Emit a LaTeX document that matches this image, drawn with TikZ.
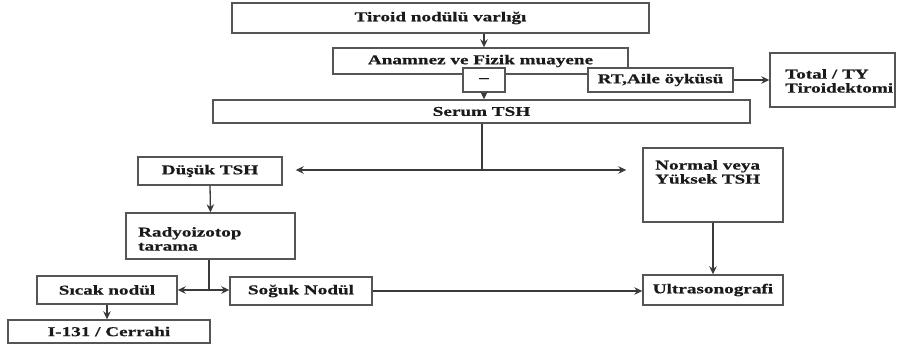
\documentclass[tikz,border=0pt]{standalone}
\usepackage{fontspec}
\setmainfont[FakeStretch=1.42,FakeBold=0.6]{Liberation Serif}
\usetikzlibrary{arrows.meta}
\definecolor{boxgray}{HTML}{555555}
\definecolor{linegray}{HTML}{3A3A3A}
\definecolor{txtcol}{HTML}{1A1A1A}
\newcommand\dgfont{\fontsize{13.5}{14}\selectfont\bfseries}
\begin{document}
\begin{tikzpicture}[x=1pt,y=-1pt,
  box/.style={draw=boxgray, line width=1.4pt, fill=white, inner sep=0pt, font=\dgfont, text=txtcol},
  lbl/.style={inner sep=0pt, anchor=north west, align=left, font=\dgfont, text=txtcol},
  conn/.style={draw=linegray, line width=1.3pt},
  arr/.style={conn, -{Stealth[length=8pt,width=7.5pt]}}]
\useasboundingbox (0,0) rectangle (900,348);
% boxes
\node[box, minimum width=417pt, minimum height=30pt] (tir) at (440.5,18) {Tiroid nodülü varlığı};
\node[box, minimum width=295pt, minimum height=26pt] (ana) at (480.5,61) {Anamnez ve Fizik muayene};
\node[box, minimum width=42pt, minimum height=24pt] (minus) at (484,80) {–};
\node[box, minimum width=145pt, minimum height=24pt] (rt) at (660.5,80) {RT,Aile öyküsü};
\node[box, minimum width=125pt, minimum height=54pt] (total) at (832.5,80) {};
\node[lbl] (totaltxt) at (785,69) {Total / TY\\Tiroidektomi};
\node[box, minimum width=537pt, minimum height=23pt] (tsh) at (481.5,111.5) {Serum TSH};
\node[box, minimum width=144pt, minimum height=28pt] (dus) at (210,171) {Düşük TSH};
\node[box, minimum width=140pt, minimum height=74pt] (nor) at (713,185) {};
\node[lbl] (nortxt) at (655,160) {Normal veya\\Yüksek TSH};
\node[box, minimum width=169pt, minimum height=46pt] (rad) at (210.5,236) {};
\node[lbl] (radtxt) at (138,227) {Radyoizotop\\tarama};
\node[box, minimum width=140pt, minimum height=28pt] (sic) at (107,290) {Sıcak nodül};
\node[box, minimum width=142pt, minimum height=28pt] (sog) at (301,291) {Soğuk Nodül};
\node[box, minimum width=140pt, minimum height=30pt] (ult) at (713,290) {Ultrasonografi};
\node[box, minimum width=202pt, minimum height=23pt] (iod) at (109,331.5) {I-131 / Cerrahi};
% junctions
\coordinate (j1) at (482,170);
\coordinate (j2) at (209,290);
% connectors
\draw[arr] (tir.south -| minus.north) -- (ana.north -| minus.north);
\draw[arr] (minus.south) -- (minus.south |- tsh.north);
\draw[arr] (rt.east) -- (total.west);
\draw[conn] (tsh.south -| j1) -- (j1);
\draw[arr, shorten >=13pt] (j1) -- (dus.east |- j1);
\draw[arr, shorten >=16pt] (j1) -- (nor.west |- j1);
\draw[arr] (dus.south) -- (rad.north);
\draw[conn] (rad.south -| j2) -- (j2);
\draw[arr] (j2) -- (sic.east |- j2);
\draw[arr] (j2) -- (sog.west |- j2);
\draw[arr] (sog.east) -- (ult.west |- sog.east);
\draw[arr] (nor.south) -- (ult.north);
\draw[arr] (sic.south) -- (sic.south |- iod.north);
\end{tikzpicture}
\end{document}
